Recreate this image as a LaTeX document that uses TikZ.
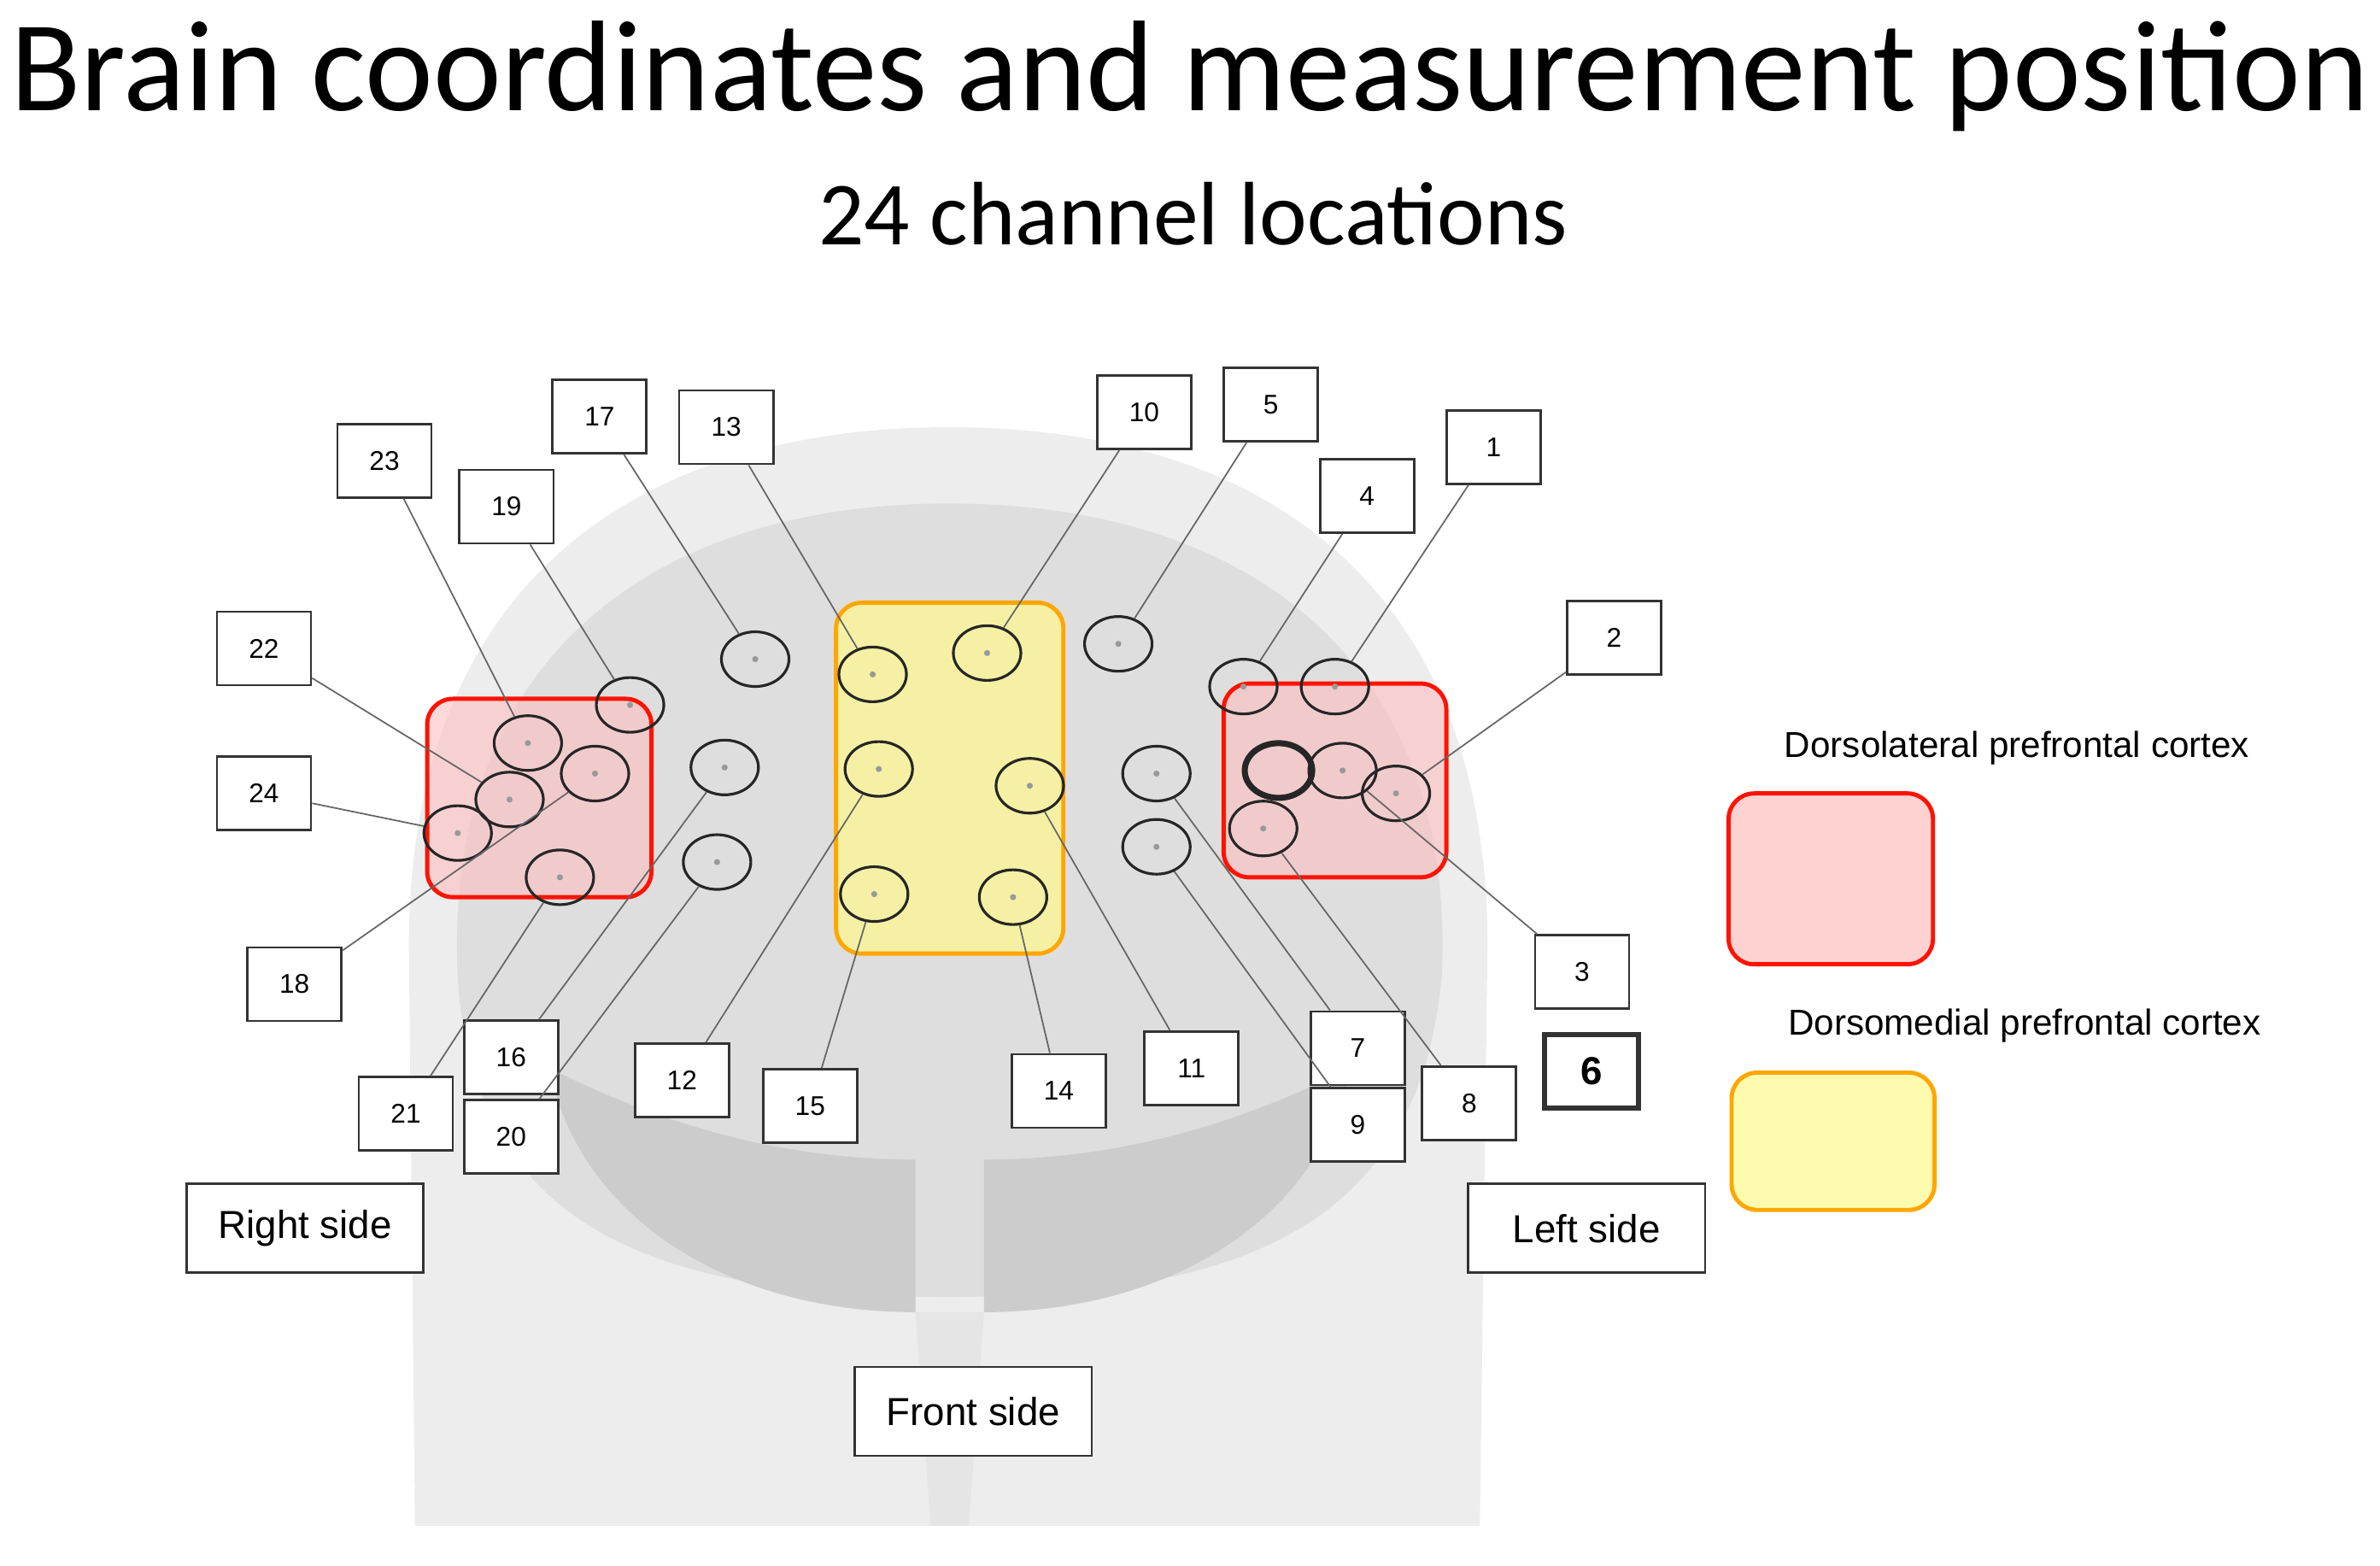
\documentclass[tikz,border=0pt]{standalone}
\usepackage{fontspec}
\usetikzlibrary{shapes.geometric}
\setmainfont{Carlito}
\newfontfamily\lbl{Liberation Sans}
\begin{document}
\begin{tikzpicture}[x=0.01786cm,y=-0.01786cm,
 bx/.style={draw=black!80,fill=white,line width=0.8pt,minimum width=1.1cm,minimum height=0.86cm,inner sep=0pt,font=\lbl\fontsize{9}{10}\selectfont},
 sd/.style={draw=black!80,fill=white,line width=0.8pt,minimum width=2.77cm,minimum height=1.04cm,inner sep=0pt,font=\lbl\fontsize{13}{14}\selectfont},
 ch/.style={draw=black!85,line width=0.9pt,ellipse,minimum width=0.79cm,minimum height=0.64cm,inner sep=0pt},
 ln/.style={draw=black!60,line width=0.5pt},
 lat/.style={draw=red!85!orange,line width=1.4pt,fill=red!25,fill opacity=0.6,rounded corners=0.3cm},
 med/.style={draw=orange!70!yellow,line width=1.4pt,fill=yellow!45,fill opacity=0.7,rounded corners=0.3cm}]
\useasboundingbox (0,0) rectangle (1560,1026);
\node[font=\fontsize{43}{46}\selectfont] (t) at (780,50) {Brain coordinates and measurement position};
\node[font=\fontsize{30}{34}\selectfont] (st) at (782,140) {24 channel locations};
% head
\fill[black!7] (272,1000) -- (268,620) .. controls (268,380) and (420,280) .. (622,280) .. controls (825,280) and (975,380) .. (975,620) -- (970,1000) -- cycle;
\fill[black!13] (300,640) .. controls (290,430) and (430,330) .. (622,330) .. controls (815,330) and (955,430) .. (945,640) .. controls (930,800) and (820,850) .. (622,850) .. controls (420,850) and (310,800) .. (300,640) -- cycle;
\fill[black!20] (360,700) .. controls (380,800) and (480,860) .. (600,860) -- (600,760) .. controls (500,760) and (420,730) .. (360,700) -- cycle;
\fill[black!20] (885,700) .. controls (865,800) and (765,860) .. (645,860) -- (645,760) .. controls (745,760) and (825,730) .. (885,700) -- cycle;
\fill[black!10] (600,860) -- (610,1000) -- (635,1000) -- (645,860) -- cycle;
% regions
\draw[lat] (280,458) rectangle (427,588);
\draw[lat] (802,448) rectangle (948,575);
\draw[med] (548,395) rectangle (697,625);
% circles
\foreach \n/\x/\y in {c17/495/432,c19/413/462,c23/346/487,c18/390/507,c22/334/524,c24/300/546,c21/367/575,c16/475/503,c20/470/565,
 c13/572/442,c10/647/428,c12/576/504,c11/675/515,c15/573/586,c14/664/588,
 c5/733/422,c7/758/507,c9/758/555,c4/815/450,c1/875/450,c3/880/505,c2/915/520,c8/828/543}
 {\node[ch] (\n) at (\x,\y) {}; \fill[black!40] (\x,\y) circle (2);}
\node[ch,line width=2pt] (c6) at (838,505) {};
% boxes
\foreach \n in {23,17,13,19,22,24,18,21,16,20,12,15,14,11,7,9,8,3,2,1,4,5,10}
 {\coordinate (p\n) at (0,0);}
\foreach \n/\x/\y in {23/252/302,17/393/273,13/476/280,19/332/332,22/173/425,24/173/520,18/193/645,21/266/730,16/335/693,20/335/745,
 12/447/708,15/531/725,14/694/715,11/781/700,7/890/687,9/890/737,8/963/723,3/1037/637,2/1058/418,1/979/293,4/896/325,5/833/265,10/750/270}
 {\node[bx] (b\n) at (\x,\y) {\n};}
\node[bx,line width=1.6pt,font=\lbl\bfseries\fontsize{13}{14}\selectfont] (b6) at (1043,702) {6};
\foreach \n in {23,17,13,19,22,24,18,21,16,20,12,15,14,11,7,9,8,3,2,1,4,5,10}
 \draw[ln] (b\n) -- (c\n);
\node[sd] (rs) at (200,805) {Right side};
\node[sd] (ls) at (1040,805) {Left side};
\node[sd] (fs) at (638,925) {Front side};
% legend
\node[font=\lbl\fontsize{12}{14}\selectfont] (l1) at (1322,490) {Dorsolateral prefrontal cortex};
\draw[lat,fill opacity=0.7] (1133,520) rectangle (1267,632);
\node[font=\lbl\fontsize{12}{14}\selectfont] (l2) at (1327,672) {Dorsomedial prefrontal cortex};
\draw[med] (1135,703) rectangle (1268,793);
\end{tikzpicture}
\end{document}
